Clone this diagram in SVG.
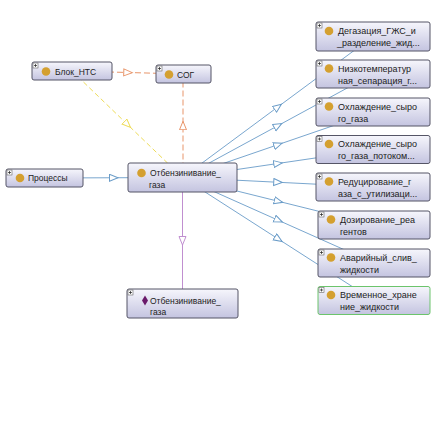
<svg xmlns="http://www.w3.org/2000/svg" width="439" height="439" viewBox="0 0 439 439">
<defs>
<linearGradient id="g" x1="0" y1="0" x2="0" y2="1">
<stop offset="0" stop-color="#f6f6fc"/>
<stop offset="1" stop-color="#c4c4e0"/>
</linearGradient>
<marker id="aBlue" markerUnits="userSpaceOnUse" markerWidth="12" markerHeight="10" refX="4.5" refY="4" orient="auto"><path d="M0.5,0.5 L9,4 L0.5,7.5 z" fill="#fff" stroke="#6a9cc8" stroke-width="1"/></marker>
<marker id="aOrange" markerUnits="userSpaceOnUse" markerWidth="12" markerHeight="10" refX="4.5" refY="4" orient="auto"><path d="M0.5,0.5 L9,4 L0.5,7.5 z" fill="#fff" stroke="#e8956a" stroke-width="1"/></marker>
<marker id="aYellow" markerUnits="userSpaceOnUse" markerWidth="12" markerHeight="10" refX="4.5" refY="4" orient="auto"><path d="M0.5,0.5 L9,4 L0.5,7.5 z" fill="#fff" stroke="#eedc58" stroke-width="1"/></marker>
<marker id="aPurple" markerUnits="userSpaceOnUse" markerWidth="12" markerHeight="10" refX="4.5" refY="4" orient="auto"><path d="M0.5,0.5 L9,4 L0.5,7.5 z" fill="#fff" stroke="#c08fd0" stroke-width="1"/></marker>
</defs>
<style>
.n{fill:url(#g);stroke:#555566;stroke-width:1}
.ng{fill:url(#g);stroke:#6cc46c;stroke-width:1}
.c{fill:#d4a030}
.t{font-family:"Liberation Sans",Arial,sans-serif;font-size:8.5px;fill:#222}
.tr{font-family:"Liberation Sans",Arial,sans-serif;font-size:9px;fill:#222}
.pb{fill:#fff;stroke:#666;stroke-width:0.6}
.pl{stroke:#222;stroke-width:0.7}
.b{fill:none;stroke:#6a9cc8;stroke-width:0.9;marker-mid:url(#aBlue)}
.o{fill:none;stroke:#e8956a;stroke-width:1;stroke-dasharray:6,3;marker-mid:url(#aOrange)}
.y{fill:none;stroke:#eedc58;stroke-width:1;stroke-dasharray:5,3;marker-mid:url(#aYellow)}
.p{fill:none;stroke:#c08fd0;stroke-width:1;marker-mid:url(#aPurple)}
</style>
<rect width="439" height="439" fill="#fff"/>
<g id="connectors">
<polyline class="b" points="44.5,178 113.5,177.75 182.5,177.5"/>
<polyline class="o" points="72,71 127.75,72.5 183.5,74"/>
<polyline class="o" points="183,177.5 183,125.75 183,74"/>
<polyline class="y" points="72,71 127.25,124.25 182.5,177.5"/>
<polyline class="p" points="182.5,177.5 182.5,240.5 182.5,303.5"/>
<polyline class="b" points="182.5,177.5 277.75,107 373,36.5"/>
<polyline class="b" points="182.5,177.5 277.75,125.75 373,74"/>
<polyline class="b" points="182.5,177.5 277.75,144.75 373,112"/>
<polyline class="b" points="182.5,177.5 277.75,163.5 373,149.5"/>
<polyline class="b" points="182.5,177.5 277.75,182.25 373,187"/>
<polyline class="b" points="182.5,177.5 278.25,201.25 374,225"/>
<polyline class="b" points="182.5,177.5 278.25,220.25 374,263"/>
<polyline class="b" points="182.5,177.5 278.25,239 374,300.5"/>
</g>
<g id="node-blok">
<rect class="n" x="32" y="62" width="80" height="18" rx="2"/>
<rect class="pb" x="33" y="63" width="5" height="5"/><path class="pl" d="M34,65.5h3M35.5,64v3"/>
<circle class="c" cx="46" cy="71.5" r="4.3"/>
<text class="t" x="55" y="74.5">Блок_НТС</text>
</g>
<g id="node-sog">
<rect class="n" x="156" y="65" width="55" height="18" rx="2"/>
<rect class="pb" x="157" y="66" width="5" height="5"/><path class="pl" d="M158,68.5h3M159.5,67v3"/>
<circle class="c" cx="169" cy="74.5" r="4.3"/>
<text class="t" x="177" y="77.5">СОГ</text>
</g>
<g id="node-processes">
<rect class="n" x="6" y="169" width="77" height="18" rx="2"/>
<rect class="pb" x="7" y="170" width="5" height="5"/><path class="pl" d="M8,172.5h3M9.5,171v3"/>
<circle class="c" cx="20" cy="178" r="4.3"/>
<text class="t" x="28" y="181">Процессы</text>
</g>
<g id="node-main">
<rect class="n" x="128" y="163" width="109" height="29" rx="2"/>
<circle class="c" cx="141.5" cy="173" r="4.3"/>
<text class="t" x="150" y="176">Отбензинивание_</text>
<text class="t" x="149" y="188">газа</text>
</g>
<g id="node-bottom">
<rect class="n" x="127" y="289" width="111" height="29" rx="2"/>
<rect class="pb" x="128" y="290" width="5" height="5"/><path class="pl" d="M129,292.5h3M130.5,291v3"/>
<path d="M145,295.5 L148,300.5 L145,305.5 L142,300.5 z" fill="#6a1a6a"/>
<text class="t" x="150" y="303.5">Отбензинивание_</text>
<text class="t" x="150" y="315">газа</text>
</g>
<g id="node-degaz">
<rect class="n" x="316" y="22" width="114" height="29" rx="2"/>
<rect class="pb" x="317" y="23" width="5" height="5"/><path class="pl" d="M318,25.5h3M319.5,24v3"/>
<circle class="c" cx="329" cy="31" r="4.3"/>
<text class="tr" x="338" y="34">Дегазация_ГЖС_и</text>
<text class="tr" x="337" y="46">_разделение_жид...</text>
</g>
<g id="node-nizko">
<rect class="n" x="316" y="60" width="114" height="28" rx="2"/>
<rect class="pb" x="317" y="61" width="5" height="5"/><path class="pl" d="M318,63.5h3M319.5,62v3"/>
<circle class="c" cx="329" cy="68.5" r="4.3"/>
<text class="tr" x="338" y="71.5">Низкотемператур</text>
<text class="tr" x="338" y="83.5">ная_сепарация_г...</text>
</g>
<g id="node-ohl">
<rect class="n" x="316" y="98" width="114" height="28" rx="2"/>
<rect class="pb" x="317" y="99" width="5" height="5"/><path class="pl" d="M318,101.5h3M319.5,100v3"/>
<circle class="c" cx="329" cy="106.5" r="4.3"/>
<text class="tr" x="338" y="109.5">Охлаждение_сыро</text>
<text class="tr" x="338" y="121.5">го_газа</text>
</g>
<g id="node-ohlp">
<rect class="n" x="316" y="135.5" width="114" height="28" rx="2"/>
<rect class="pb" x="317" y="136.5" width="5" height="5"/><path class="pl" d="M318,139h3M319.5,137.5v3"/>
<circle class="c" cx="329" cy="144" r="4.3"/>
<text class="tr" x="338" y="147">Охлаждение_сыро</text>
<text class="tr" x="338" y="159">го_газа_потоком...</text>
</g>
<g id="node-red">
<rect class="n" x="316" y="173" width="114" height="28" rx="2"/>
<rect class="pb" x="317" y="174" width="5" height="5"/><path class="pl" d="M318,176.5h3M319.5,175v3"/>
<circle class="c" cx="329" cy="181.5" r="4.3"/>
<text class="tr" x="338" y="184.5">Редуцирование_г</text>
<text class="tr" x="338" y="196.5">аза_с_утилизаци...</text>
</g>
<g id="node-doz">
<rect class="n" x="318" y="211" width="112" height="28" rx="2"/>
<rect class="pb" x="319" y="212" width="5" height="5"/><path class="pl" d="M320,214.5h3M321.5,213v3"/>
<circle class="c" cx="331" cy="219.5" r="4.3"/>
<text class="tr" x="340" y="222.5">Дозирование_реа</text>
<text class="tr" x="340" y="234.5">гентов</text>
</g>
<g id="node-avar">
<rect class="n" x="318" y="249" width="112" height="28" rx="2"/>
<rect class="pb" x="319" y="250" width="5" height="5"/><path class="pl" d="M320,252.5h3M321.5,251v3"/>
<circle class="c" cx="331" cy="257.5" r="4.3"/>
<text class="tr" x="340" y="260.5">Аварийный_слив_</text>
<text class="tr" x="340" y="272.5">жидкости</text>
</g>
<g id="node-vrem">
<rect class="ng" x="318" y="286.5" width="112" height="28" rx="2"/>
<rect class="pb" x="319" y="287.5" width="5" height="5"/><path class="pl" d="M320,290h3M321.5,288.5v3"/>
<circle class="c" cx="331" cy="295" r="4.3"/>
<text class="tr" x="340" y="298">Временное_хране</text>
<text class="tr" x="340" y="310">ние_жидкости</text>
</g>
</svg>
